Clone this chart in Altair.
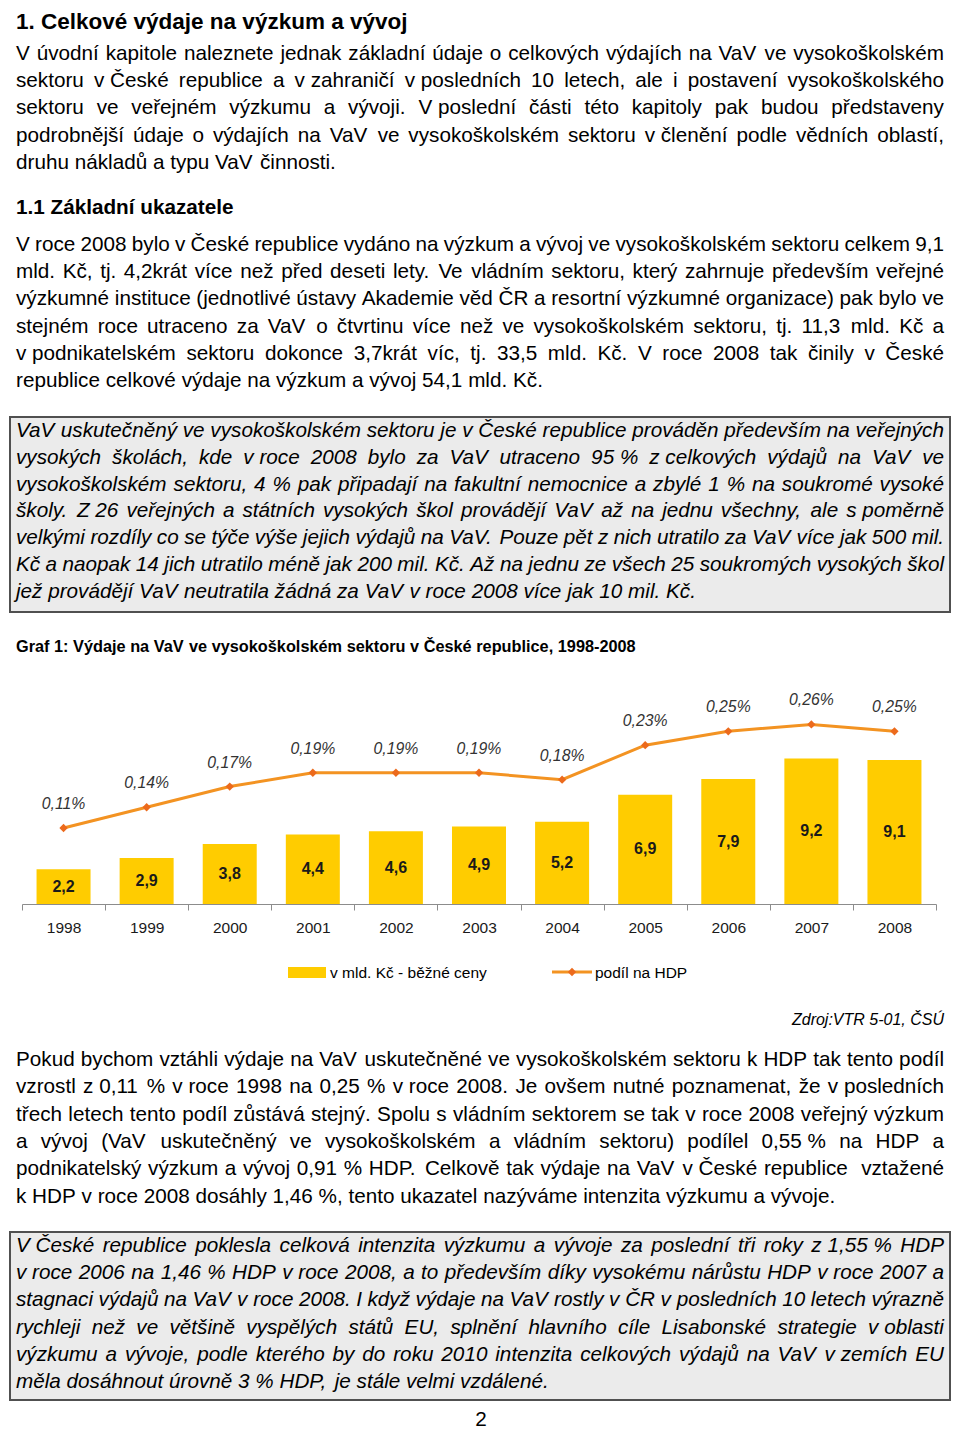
import unicodedata
import altair as alt
import pandas as pd

# ---------------- chart data ----------------
years = ["1998", "1999", "2000", "2001", "2002", "2003", "2004", "2005", "2006", "2007", "2008"]
spend = [2.2, 2.9, 3.8, 4.4, 4.6, 4.9, 5.2, 6.9, 7.9, 9.2, 9.1]          # v mld. Kč - běžné ceny
share = [0.11, 0.14, 0.17, 0.19, 0.19, 0.19, 0.18, 0.23, 0.25, 0.26, 0.25]  # podíl na HDP (%)

spend_labels = [f"{v:.1f}".replace(".", ",") for v in spend]
share_labels = [f"{v:.2f}".replace(".", ",") + "%" for v in share]

# ---------------- page text ----------------
title = "1. Celkové výdaje na výzkum a vývoj"
para1 = [
    "V úvodní kapitole naleznete jednak základní údaje o celkových výdajích na VaV ve vysokoškolském",
    "sektoru v~České republice a v~zahraničí v~posledních 10 letech, ale i postavení vysokoškolského",
    "sektoru ve veřejném výzkumu a vývoji. V~poslední části této kapitoly pak budou představeny",
    "podrobnější údaje o výdajích na VaV ve vysokoškolském sektoru v~členění podle vědních oblastí,",
    "druhu nákladů a typu VaV činnosti.",
]
heading = "1.1 Základní ukazatele"
para2 = [
    "V roce 2008 bylo v České republice vydáno na výzkum a vývoj ve vysokoškolském sektoru celkem 9,1",
    "mld. Kč, tj. 4,2krát více než před deseti lety. Ve vládním sektoru, který zahrnuje především veřejné",
    "výzkumné instituce (jednotlivé ústavy Akademie věd ČR a resortní výzkumné organizace) pak bylo ve",
    "stejném roce utraceno za VaV o čtvrtinu více než ve vysokoškolském sektoru, tj. 11,3 mld. Kč a",
    "v~podnikatelském sektoru dokonce 3,7krát víc, tj. 33,5 mld. Kč. V roce 2008 tak činily v České",
    "republice celkové výdaje na výzkum a vývoj 54,1 mld. Kč.",
]
box1 = [
    "VaV uskutečněný ve vysokoškolském sektoru je v České republice prováděn především na veřejných",
    "vysokých školách, kde v~roce 2008 bylo za VaV utraceno 95~% z~celkových výdajů na VaV ve",
    "vysokoškolském sektoru, 4 % pak připadají na fakultní nemocnice a zbylé 1 % na soukromé vysoké",
    "školy. Z~26 veřejných a státních vysokých škol provádějí VaV až na jednu všechny, ale s~poměrně",
    "velkými rozdíly co se týče výše jejich výdajů na VaV. Pouze pět z nich utratilo za VaV více jak 500 mil.",
    "Kč a naopak 14 jich utratilo méně jak 200 mil. Kč. Až na jednu ze všech 25 soukromých vysokých škol",
    "jež provádějí VaV neutratila žádná za VaV v roce 2008 více jak 10 mil. Kč.",
]
chart_title = "Graf 1: Výdaje na VaV ve vysokoškolském sektoru v České republice, 1998-2008"
legend_bar = "v mld. Kč - běžné ceny"
legend_line = "podíl na HDP"
source = "Zdroj:VTR 5-01, ČSÚ"
para3 = [
    "Pokud bychom vztáhli výdaje na VaV uskutečněné ve vysokoškolském sektoru k HDP tak tento podíl",
    "vzrostl z~0,11 % v~roce 1998 na 0,25 % v~roce 2008. Je ovšem nutné poznamenat, že v~posledních",
    "třech letech tento podíl zůstává stejný. Spolu s vládním sektorem se tak v roce 2008 veřejný výzkum",
    "a vývoj (VaV uskutečněný ve vysokoškolském a vládním sektoru) podílel 0,55~% na HDP a",
    "podnikatelský výzkum a vývoj 0,91 % HDP. Celkově tak výdaje na VaV v~České republice  vztažené",
    "k HDP v roce 2008 dosáhly 1,46 %, tento ukazatel nazýváme intenzita výzkumu a vývoje.",
]
box2 = [
    "V~České republice poklesla celková intenzita výzkumu a vývoje za poslední tři roky z~1,55~% HDP",
    "v~roce 2006 na 1,46 % HDP v~roce 2008, a to především díky vysokému nárůstu HDP v~roce 2007 a",
    "stagnaci výdajů na VaV v~roce 2008. I když výdaje na VaV rostly v~ČR v~posledních 10 letech výrazně",
    "rychleji než ve většině vyspělých států EU, splnění hlavního cíle Lisabonské strategie v~oblasti",
    "výzkumu a vývoje, podle kterého by do roku 2010 intenzita celkových výdajů na VaV v~zemích EU",
    "měla dosáhnout úrovně 3 % HDP, je stále velmi vzdálené.",
]
page_no = "2"

# ---------------- text layout helpers (Arial / Liberation Sans metrics) ----------------
REG = {" ": 278, "\u00a0": 278, "!": 278, "%": 889, "(": 333, ")": 333, ",": 278, "-": 333,
       ".": 278, ":": 278, ";": 278, "/": 278}
BOLD = dict(REG)
BOLD.update({":": 333, ";": 333})
for d in "0123456789":
    REG[d] = 556
    BOLD[d] = 556
REG.update(dict(zip("ABCDEFGHIJKLMNOPQRSTUVWXYZ",
                    [667, 667, 722, 722, 667, 611, 778, 722, 278, 500, 667, 556, 833,
                     722, 778, 667, 778, 722, 667, 611, 722, 667, 944, 667, 667, 611])))
REG.update(dict(zip("abcdefghijklmnopqrstuvwxyz",
                    [556, 556, 500, 556, 556, 278, 556, 556, 222, 222, 500, 222, 833,
                     556, 556, 556, 556, 333, 500, 278, 556, 500, 722, 500, 500, 500])))
BOLD.update(dict(zip("ABCDEFGHIJKLMNOPQRSTUVWXYZ",
                     [722, 722, 722, 722, 667, 611, 778, 722, 278, 556, 722, 611, 833,
                      722, 778, 667, 778, 722, 667, 611, 722, 667, 944, 667, 667, 611])))
BOLD.update(dict(zip("abcdefghijklmnopqrstuvwxyz",
                     [556, 611, 556, 611, 556, 333, 611, 611, 278, 278, 556, 278, 889,
                      611, 611, 611, 611, 389, 556, 333, 611, 556, 778, 556, 556, 500])))


def char_w(ch, tbl):
    if ch in tbl:
        return tbl[ch]
    if ch in "íìîï":
        return 278
    base = unicodedata.normalize("NFD", ch)[0]
    return tbl.get(base, 556)


def text_w(s, tbl):
    return sum(char_w(c, tbl) for c in s)


rows = []
M = 8  # page margin


def add_line(text, base, fs, style, left=16, right=944, justify=False, align="left"):
    tbl = BOLD if style == "bold" else REG
    toks = [t.replace("~", "\u00a0") for t in text.split(" ")]
    ws = [text_w(t, tbl) * fs / 1000 for t in toks]
    sp = 278 * fs / 1000
    total = sum(ws) + sp * (len(toks) - 1)
    gap = (right - left - sum(ws)) / (len(toks) - 1) if (justify and len(toks) > 1) else sp
    if align == "right":
        x = right - total
    elif align == "center":
        x = left - total / 2
    else:
        x = left
    for t, w in zip(toks, ws):
        if t:
            rows.append({"x": x - M, "y": base - M, "t": t, "fs": fs, "style": style})
        x += w + gap


def add_par(lines, y0, step, fs, style):
    for i, ln in enumerate(lines):
        add_line(ln, y0 + i * step, fs, style, justify=(i < len(lines) - 1))


FS = 20.7
add_line(title, 29, 22.5, "bold")
add_par(para1, 60, 27.2, FS, "regular")
add_line(heading, 213.5, FS, "bold")
add_par(para2, 251, 27.2, FS, "regular")
add_par(box1, 436.7, 26.9, FS, "italic")
add_line(chart_title, 652, 16.3, "bold")
add_line(legend_bar, 978, 15.5, "regular", left=330)
add_line(legend_line, 978, 15.5, "regular", left=595)
add_line(source, 1025, 16, "italic", right=944, align="right")
add_par(para3, 1066, 27.3, FS, "regular")
add_par(box2, 1252, 27.2, FS, "italic")
add_line(page_no, 1426, FS, "regular", left=481, align="center")

text_df = pd.DataFrame(rows)


def text_layer(style):
    df = text_df[text_df["style"] == style]
    return alt.Chart(df).mark_text(
        align="left", baseline="alphabetic", font="Liberation Sans",
        fontStyle="italic" if style == "italic" else "normal",
        fontWeight="bold" if style == "bold" else "normal", color="#000000",
    ).encode(
        x=alt.X("x:Q", scale=None, axis=None),
        y=alt.Y("y:Q", scale=None, axis=None),
        text="t:N",
        size=alt.Size("fs:Q", scale=None, legend=None),
    )


one = pd.DataFrame({"k": [0]})


def box(y_top, y_bot):
    return alt.Chart(one).mark_rect(fill="#ebebeb", stroke="#505050", strokeWidth=2).encode(
        x=alt.value(2), x2=alt.value(942), y=alt.value(y_top - M), y2=alt.value(y_bot - M))


# ---------------- chart ----------------
cdf = pd.DataFrame({"year": years, "spend": spend, "share": share,
                    "spend_label": spend_labels, "share_label": share_labels})

BASE = 904 - M
x_scale = alt.Scale(range=[22 - M, 936 - M], paddingInner=0, paddingOuter=0)
y_bar = alt.Scale(domain=[0, 10], range=[BASE, BASE - 158.2])
y_line = alt.Scale(domain=[0, 0.3], range=[BASE, BASE - 207.2])
x_plain = alt.X("year:N", scale=x_scale, axis=None, sort=years)

bars = alt.Chart(cdf).mark_bar(size=54, color="#FFCC00").encode(
    x=alt.X("year:N", scale=x_scale, sort=years,
            axis=alt.Axis(title=None, offset=BASE - 1424, tickBand="extent", domainColor="#8c8c8c",
                          tickColor="#8c8c8c", tickSize=6, labelFont="Liberation Sans",
                          labelFontSize=15.5, labelColor="#1a1a1a", labelPadding=10,
                          labelAngle=0, grid=False, domainWidth=1, tickWidth=1)),
    y=alt.Y("spend:Q", scale=y_bar, axis=None),
)
bar_text = alt.Chart(cdf).transform_calculate(mid="datum.spend / 2").mark_text(
    font="Liberation Sans", fontWeight="bold", fontSize=16, color="#1a1a1a", baseline="middle"
).encode(x=x_plain, y=alt.Y("mid:Q", scale=y_bar, axis=None), text="spend_label:N")

line = alt.Chart(cdf).mark_line(color="#F39322", strokeWidth=3).encode(
    x=x_plain, y=alt.Y("share:Q", scale=y_line, axis=None))
pts = alt.Chart(cdf).mark_point(shape="diamond", filled=True, size=70, color="#EC6A1C", opacity=1).encode(
    x=x_plain, y=alt.Y("share:Q", scale=y_line, axis=None))
pct_text = alt.Chart(cdf).mark_text(
    font="Liberation Sans", fontStyle="italic", fontSize=15.8, color="#333333", baseline="middle", dy=-24
).encode(x=x_plain, y=alt.Y("share:Q", scale=y_line, axis=None), text="share_label:N")

# legend symbols
leg_rect = alt.Chart(one).mark_rect(color="#FFCC00").encode(
    x=alt.value(288 - M), x2=alt.value(326 - M), y=alt.value(967 - M), y2=alt.value(978 - M))
leg_line = alt.Chart(one).mark_rule(color="#F39322", strokeWidth=3).encode(
    x=alt.value(552 - M), x2=alt.value(592 - M), y=alt.value(972 - M))
leg_pt = alt.Chart(one).mark_point(shape="diamond", filled=True, size=70, color="#EC6A1C", opacity=1).encode(
    x=alt.value(572 - M), y=alt.value(972 - M))

chart = alt.layer(
    box(417, 612), box(1232, 1400),
    bars, line, pts, bar_text, pct_text,
    leg_rect, leg_line, leg_pt,
    text_layer("regular"), text_layer("italic"), text_layer("bold"),
).resolve_scale(x="independent", y="independent").properties(
    width=944, height=1424, padding=0, autosize="none", background="white"
).configure_view(stroke=None)

chart.save("out.html", embed_options={"renderer": "svg", "actions": False})
